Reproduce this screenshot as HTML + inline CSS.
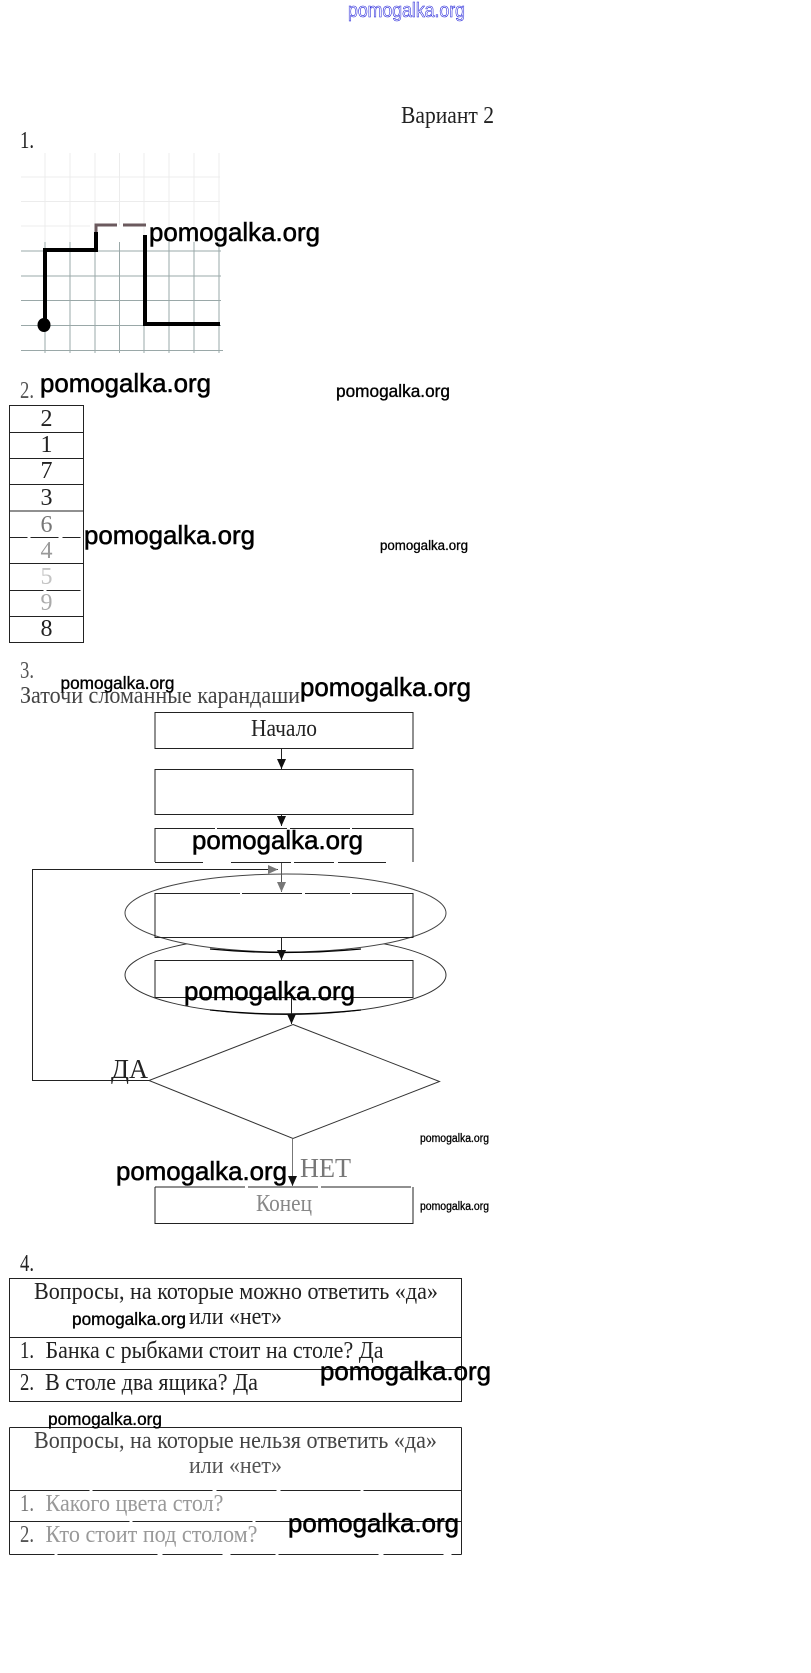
<!DOCTYPE html>
<html><head><meta charset="utf-8"><title>Вариант 2</title>
<style>
html,body{margin:0;padding:0;background:#fff}
svg{display:block}
.s{font-family:"Liberation Serif","Noto Serif CJK SC",serif;font-size:24px;fill:#222}
.f{fill:#999}
.w{font-family:"Liberation Sans","Noto Sans CJK SC",sans-serif;fill:#000;stroke:#000;stroke-width:.55}
.l{font-size:26px}.m{font-size:17.500px;stroke-width:.35}.t{font-size:13.500px;stroke-width:.3}
</style></head><body>
<svg width="811" height="1673" viewBox="0 0 811 1673" xmlns="http://www.w3.org/2000/svg">
<defs>
<marker id="a" markerWidth="11" markerHeight="10" refX="10" refY="4.500" orient="auto" markerUnits="userSpaceOnUse"><path d="M0 0L10 4.500L0 9Z" fill="#111"/></marker>
<marker id="g" markerWidth="11" markerHeight="10" refX="10" refY="4.500" orient="auto" markerUnits="userSpaceOnUse"><path d="M0 0L10 4.500L0 9Z" fill="#777"/></marker>
</defs>
<text x="348" y="17" font-family="Liberation Sans" font-size="20" fill="#fff" stroke="#1a1ad8" stroke-width=".6" textLength="117" lengthAdjust="spacingAndGlyphs">pomogalka.org</text>
<text class="s" x="401" y="123" textLength="93" lengthAdjust="spacingAndGlyphs">Вариант 2</text>
<text class="s" x="20" y="148" textLength="14" lengthAdjust="spacingAndGlyphs">1.</text>

<g stroke="#ececec" stroke-width="1" fill="none">
<path d="M45 153V242M70 153V242M95 153V225M119.500 153V225M144 153V242M169 153V242M194 153V242M219 153V242"/>
<path d="M21 177H220M21 201.500H220M21 226H90"/>
</g>
<g stroke="#9aa8a8" stroke-width="1" fill="none">
<path d="M45 242V353M70 242V353M95 242V353M119.500 242V353M144 242V353M169 242V353M194 242V353M219 242V353"/>
<path d="M21 251H221M21 276H221M21 300.500H221M21 325.500H221M21 350.500H223"/>
</g>
<path d="M45 325V250H96V232M145 235V324H220" fill="none" stroke="#000" stroke-width="4"/>
<path d="M96 232V225H117M123 225H146" fill="none" stroke="#6b5a5e" stroke-width="3"/>
<ellipse cx="44" cy="325" rx="6.500" ry="7" fill="#000"/>

<text class="s" x="20" y="398" textLength="14" lengthAdjust="spacingAndGlyphs" style="fill:#555">2.</text>
<g stroke="#222" stroke-width="1" fill="none">
<path d="M9.500 405.500H83.500M9.500 432.500H83.500M9.500 458.500H83.500M9.500 484.500H83.500M9.500 511H83.500M9.500 563.500H83.500M9.500 616.500H83.500M9.500 642.500H83.500"/>
<path d="M9.500 405V643M83.500 405V643"/>
<path d="M9.500 537.500H83.500" stroke-dasharray="18 3 28 4"/>
<path d="M9.500 590.500H83.500" stroke-dasharray="34 3"/>
</g>
<g class="s" text-anchor="middle">
<text x="46.500" y="426">2</text><text x="46.500" y="452">1</text><text x="46.500" y="478">7</text><text x="46.500" y="505">3</text>
<text x="46.500" y="532" style="fill:#777">6</text><text x="46.500" y="558" class="f">4</text><text x="46.500" y="584" style="fill:#c4c4c4">5</text><text x="46.500" y="610" style="fill:#aaa">9</text>
<text x="46.500" y="636">8</text>
</g>

<text class="s" x="20" y="678" textLength="14" lengthAdjust="spacingAndGlyphs" style="fill:#555">3.</text>
<text class="s" x="20" y="703" textLength="280" lengthAdjust="spacingAndGlyphs" style="fill:#444">Заточи сломанные карандаши</text>

<g fill="none" stroke="#222" stroke-width="1">
<ellipse cx="285.500" cy="975" rx="160.500" ry="39.500" stroke="#333"/>
<ellipse cx="285.500" cy="913" rx="160.500" ry="39" fill="#fff" stroke="#444"/>
<path d="M210 949Q285.500 956 361 949" stroke="#000" stroke-width="1.300"/>
<path d="M210 1010Q285.500 1018 361 1010" stroke="#000" stroke-width="1.200"/>
<rect x="155" y="712.500" width="258" height="36"/>
<rect x="155" y="769.500" width="258" height="45"/>
<path d="M155 828.500H413" stroke-dasharray="60 2 70 3"/>
<path d="M155 862.500H413" stroke-dasharray="48 28 60 3 40 4"/>
<path d="M155 828V862M413 828V862"/>
<path d="M155 893.500H413" stroke-dasharray="85 2 60 3 45 2"/>
<path d="M155 893V937.500H413V893"/>
<rect x="155" y="960.500" width="258" height="37"/>
<path d="M293 1024.500L439.500 1081.500L293 1138.500L149 1080.500Z" stroke="#333"/>
<path d="M155 1187H413" stroke-dasharray="90 3 70 3"/>
<path d="M155 1187V1223.500H413V1187"/>
<path d="M149 1080.500H32.500V869.500H278" stroke="#222" marker-end="url(#g)"/>
<path d="M281.500 749V769" marker-end="url(#a)"/>
<path d="M281.500 815V826" marker-end="url(#a)"/>
<path d="M281.500 863V892" stroke="#555" marker-end="url(#g)"/>
<path d="M281.500 938V960" marker-end="url(#a)"/>
<path d="M291.500 998V1024" marker-end="url(#a)"/>
<path d="M292.500 1139V1186" stroke="#777" marker-end="url(#a)"/>
</g>
<text class="s" x="251" y="736" textLength="66" lengthAdjust="spacingAndGlyphs">Начало</text>
<text class="s" x="256" y="1211" textLength="56" lengthAdjust="spacingAndGlyphs" style="fill:#888">Конец</text>
<text class="s" x="111" y="1078" textLength="37" lengthAdjust="spacingAndGlyphs" style="font-size:27px">ДА</text>
<text class="s" x="300" y="1177" textLength="51" lengthAdjust="spacingAndGlyphs" style="font-size:27px;fill:#777">НЕТ</text>

<text class="s" x="20" y="1271" textLength="14" lengthAdjust="spacingAndGlyphs">4.</text>
<g fill="none" stroke="#222" stroke-width="1">
<rect x="9.500" y="1278.500" width="452" height="123"/>
<path d="M9.500 1337.500H461.500M9.500 1369.500H461.500"/>
<path d="M9.500 1427.500H461.500M461.500 1427.500V1554.500M9.500 1427.500V1554.500"/>
<path d="M9.500 1490.500H461.500" stroke-dasharray="80 3 120 4 60 4"/>
<path d="M9.500 1521.500H461.500" stroke-dasharray="120 3"/>
<path d="M9.500 1554.500H461.500" stroke-dasharray="45 3 100 5 60 8"/>
</g>
<text class="s" x="34" y="1299" textLength="404" lengthAdjust="spacingAndGlyphs">Вопросы, на которые можно ответить «да»</text>
<text class="s" x="189" y="1324" textLength="93" lengthAdjust="spacingAndGlyphs">или «нет»</text>
<text class="s" x="20" y="1358" textLength="14" lengthAdjust="spacingAndGlyphs">1.</text>
<text class="s" x="45.500" y="1358" textLength="338" lengthAdjust="spacingAndGlyphs">Банка с рыбками стоит на столе? Да</text>
<text class="s" x="20" y="1390" textLength="14" lengthAdjust="spacingAndGlyphs">2.</text>
<text class="s" x="45" y="1390" textLength="213" lengthAdjust="spacingAndGlyphs">В столе два ящика? Да</text>
<text class="s" x="34" y="1448" textLength="403" lengthAdjust="spacingAndGlyphs" style="fill:#444">Вопросы, на которые нельзя ответить «да»</text>
<text class="s" x="189" y="1473" textLength="93" lengthAdjust="spacingAndGlyphs" style="fill:#555">или «нет»</text>
<text class="s" x="20" y="1511" textLength="14" lengthAdjust="spacingAndGlyphs" style="fill:#777">1.</text>
<text class="s f" x="45.500" y="1511" textLength="178" lengthAdjust="spacingAndGlyphs">Какого цвета стол?</text>
<text class="s" x="20" y="1542" textLength="14" lengthAdjust="spacingAndGlyphs" style="fill:#555">2.</text>
<text class="s f" x="45.500" y="1542" textLength="212" lengthAdjust="spacingAndGlyphs">Кто стоит под столом?</text>

<g class="w">
<text class="l" x="149" y="241" textLength="171" lengthAdjust="spacingAndGlyphs">pomogalka.org</text>
<text class="l" x="40" y="392" textLength="171" lengthAdjust="spacingAndGlyphs">pomogalka.org</text>
<text class="l" x="84" y="544" textLength="171" lengthAdjust="spacingAndGlyphs">pomogalka.org</text>
<text class="l" x="300" y="696" textLength="171" lengthAdjust="spacingAndGlyphs">pomogalka.org</text>
<text class="l" x="192" y="849" textLength="171" lengthAdjust="spacingAndGlyphs">pomogalka.org</text>
<text class="l" x="184" y="1000" textLength="171" lengthAdjust="spacingAndGlyphs">pomogalka.org</text>
<text class="l" x="116" y="1180" textLength="171" lengthAdjust="spacingAndGlyphs">pomogalka.org</text>
<text class="l" x="320" y="1380" textLength="171" lengthAdjust="spacingAndGlyphs">pomogalka.org</text>
<text class="l" x="288" y="1532" textLength="171" lengthAdjust="spacingAndGlyphs">pomogalka.org</text>
<text class="m" x="336" y="397" textLength="114" lengthAdjust="spacingAndGlyphs">pomogalka.org</text>
<text class="m" x="60.500" y="689" textLength="114" lengthAdjust="spacingAndGlyphs">pomogalka.org</text>
<text class="m" x="72" y="1325" textLength="114" lengthAdjust="spacingAndGlyphs">pomogalka.org</text>
<text class="m" x="48" y="1425" textLength="114" lengthAdjust="spacingAndGlyphs">pomogalka.org</text>
<text class="t" x="380" y="550" textLength="88" lengthAdjust="spacingAndGlyphs">pomogalka.org</text>
<text class="t" x="420" y="1142" textLength="69" lengthAdjust="spacingAndGlyphs" style="font-size:11.500px">pomogalka.org</text>
<text class="t" x="420" y="1210" textLength="69" lengthAdjust="spacingAndGlyphs" style="font-size:11.500px">pomogalka.org</text>
</g>
</svg>
</body></html>
